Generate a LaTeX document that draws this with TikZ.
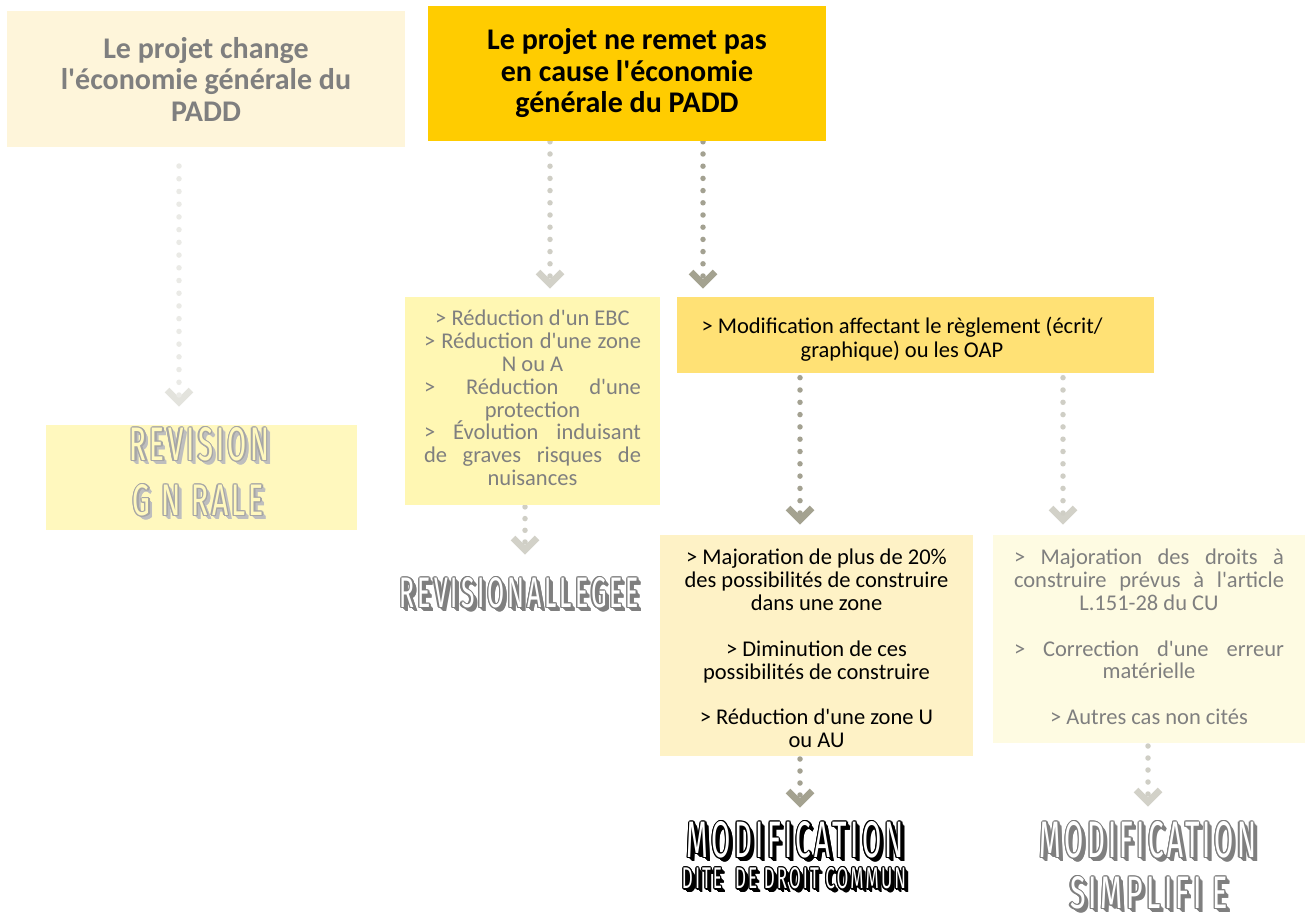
\documentclass[tikz,border=0pt]{standalone}
\usepackage{fontspec}
\usepackage{graphicx}
\setmainfont{Carlito}[Ligatures=TeXOff]
\newfontfamily\decofont{Fira Sans}[LetterSpace=12]
\usetikzlibrary{backgrounds,calc}
\definecolor{cA}{HTML}{FEF5DA}
\definecolor{cB}{HTML}{FFCC00}
\definecolor{cC}{HTML}{FFF7B3}
\definecolor{cD}{HTML}{FFE175}
\definecolor{cE}{HTML}{FEF2C6}
\definecolor{cF}{HTML}{FEFBE2}
\definecolor{cG}{HTML}{FFF8BE}
\definecolor{tgray}{HTML}{7F7F7F}
\definecolor{arrA}{HTML}{EAEAE6}
\definecolor{arrAc}{HTML}{E3E3DD}
\definecolor{arrL}{HTML}{CFCEC5}
\definecolor{arrLc}{HTML}{D2D1C8}
\definecolor{arrD}{HTML}{A3A191}
\definecolor{arrDc}{HTML}{A4A290}
\definecolor{shGen}{HTML}{BEBEBE}
\definecolor{olGen}{HTML}{A6A6A6}
\tikzset{
  box/.style={inner sep=0pt, outer sep=0pt, align=center},
  bigtxt/.style={font=\bfseries\fontsize{30}{31.5}\selectfont},
  smalltxt/.style={font=\fontsize{22.5}{22.8}\selectfont},
  dotline/.style={line width=5.5pt, line cap=round},
  chev/.style={line width=6.5pt, line cap=butt, line join=miter},
  deco/.style={inner sep=0pt, outer sep=0pt, anchor=center}
}
\newcommand\decolabel[8]{%
  \foreach \k in {0.5,1,...,4}{\node[deco,text=#8,xshift=\k pt,yshift=-\k pt] at #2 {\resizebox{#3}{#4}{\decofont #5}};}%
  \foreach \a in {0,30,...,330}{\node[deco,text=#7,shift={(\a:1.2pt)}] at #2 {\resizebox{#3}{#4}{\decofont #5}};}%
  \node[deco,text=#6] (#1) at #2 {\resizebox{#3}{#4}{\decofont #5}};%
}
\newcommand\jC[1]{\makebox[217pt][s]{#1}}
\newcommand\jF[1]{\makebox[270pt][s]{#1}}
\begin{document}
\begin{tikzpicture}[x=1pt,y=-1pt]
\useasboundingbox (0,0) rectangle (1307,915);
% boxes
\node[box, bigtxt, fill=cA, text=tgray, minimum width=398pt, minimum height=136pt] (A) at (206,79)
  {Le projet change\\l'économie générale du\\PADD};
\node[box, bigtxt, fill=cB, text=black, minimum width=398pt, minimum height=135pt] (B) at (627,73.5)
  {Le projet ne remet pas\\en cause l'économie\\générale du PADD};
\node[box, fill=cC, minimum width=255pt, minimum height=208pt] (C) at (532.5,401) {};
\node[box, smalltxt, text=tgray] (Ctext) at (532.5,398)
  {> Réduction d'un EBC\\\jC{> Réduction d'une zone}\\N ou A\\\jC{> \ Réduction \ d'une}\\protection\\\jC{> Évolution induisant}\\\jC{de graves risques de}\\nuisances};
\node[box, fill=cD, minimum width=477pt, minimum height=76pt] (D) at (915.5,335) {};
\node[box, smalltxt, text=black, font=\fontsize{22.5}{24}\selectfont] (Dtext) at (902,339)
  {> Modification affectant le règlement (écrit/\\graphique) ou les OAP};
\node[box, fill=cE, minimum width=313pt, minimum height=221pt] (E) at (816.5,645.5) {};
\node[box, smalltxt, text=black] (Etext) at (816.5,648.5)
  {> Majoration de plus de 20\%\\des possibilités de construire\\dans une zone\\[23pt]> Diminution de ces\\possibilités de construire\\[23pt]> Réduction d'une zone U\\ou AU};
\node[box, fill=cF, minimum width=312pt, minimum height=208pt] (F) at (1149,639) {};
\node[box, smalltxt, text=tgray] (Ftext) at (1149,637)
  {\jF{> Majoration des droits à}\\\jF{construire prévus à l'article}\\L.151-28 du CU\\[23pt]\jF{> Correction d'une erreur}\\matérielle\\[23pt]> Autres cas non cités};
\node[box, fill=cG, minimum width=311pt, minimum height=105pt] (G) at (201.5,477.5) {};
% decorative labels
\decolabel{revA}{(199.5,444.5)}{139pt}{33pt}{REVISION}{cG}{olGen}{shGen}
\decolabel{revB}{(198.5,500.5)}{131pt}{31pt}{G N RALE}{cG}{olGen}{shGen}
\decolabel{revall}{(519.5,593)}{239pt}{30pt}{REVISIONALLEGEE}{white}{tgray}{tgray}
\decolabel{modA}{(795.5,840)}{217pt}{36pt}{MODIFICATION}{white}{black}{black}
\decolabel{modB}{(794,878.5)}{224pt}{21pt}{DITE\ \ DE DROIT COMMUN}{white}{black}{black}
\decolabel{simA}{(1148,840)}{216pt}{36pt}{MODIFICATION}{white}{tgray}{tgray}
\decolabel{simB}{(1149,893)}{158pt}{32pt}{SIMPLIFI E}{white}{tgray}{tgray}
% arrow tips
\coordinate (t1) at (179,402);
\coordinate (t2) at (550,284);
\coordinate (t3) at (703,284);
\coordinate (t4) at (800,520);
\coordinate (t5) at (1063,520);
\coordinate (t6) at (525,550);
\coordinate (t7) at (800,803);
\coordinate (t8) at (1148,802);
\begin{scope}[on background layer]
\fill[white] (0,0) rectangle (1307,915);
\draw[chev, arrAc] ($(t1)+(-12,-12)$) -- (t1) -- ($(t1)+(12,-12)$);
\draw[dotline, arrA, dash pattern=on 0pt off 12.72pt] ($(t1)+(0,-7)$) -- ($(t1 |- A.south)+(0,19)$);
\draw[chev, arrLc] ($(t2)+(-12,-12)$) -- (t2) -- ($(t2)+(12,-12)$);
\draw[dotline, arrL, dash pattern=on 0pt off 12.2pt] ($(t2)+(0,-8)$) -- (t2 |- B.south);
\draw[chev, arrDc] ($(t3)+(-12,-12)$) -- (t3) -- ($(t3)+(12,-12)$);
\draw[dotline, arrD, dash pattern=on 0pt off 12.2pt] ($(t3)+(0,-8)$) -- (t3 |- B.south);
\draw[chev, arrDc] ($(t4)+(-12,-12)$) -- (t4) -- ($(t4)+(12,-12)$);
\draw[dotline, arrD, dash pattern=on 0pt off 12.3pt] ($(t4)+(0,-7)$) -- (t4 |- D.south);
\draw[chev, arrLc] ($(t5)+(-12,-12)$) -- (t5) -- ($(t5)+(12,-12)$);
\draw[dotline, arrL, dash pattern=on 0pt off 12.3pt] ($(t5)+(0,-7)$) -- (t5 |- D.south);
\draw[chev, arrLc] ($(t6)+(-12,-12)$) -- (t6) -- ($(t6)+(12,-12)$);
\draw[dotline, arrL, dash pattern=on 0pt off 11.7pt] ($(t6)+(0,-8)$) -- (t6 |- C.south);
\draw[chev, arrDc] ($(t7)+(-12,-12)$) -- (t7) -- ($(t7)+(12,-12)$);
\draw[dotline, arrD, dash pattern=on 0pt off 12pt] ($(t7)+(0,-8)$) -- (t7 |- E.south);
\draw[chev, arrLc] ($(t8)+(-12,-12)$) -- (t8) -- ($(t8)+(12,-12)$);
\draw[dotline, arrL, dash pattern=on 0pt off 12pt] ($(t8)+(0,-8)$) -- (t8 |- F.south);
\end{scope}
\end{tikzpicture}
\end{document}
